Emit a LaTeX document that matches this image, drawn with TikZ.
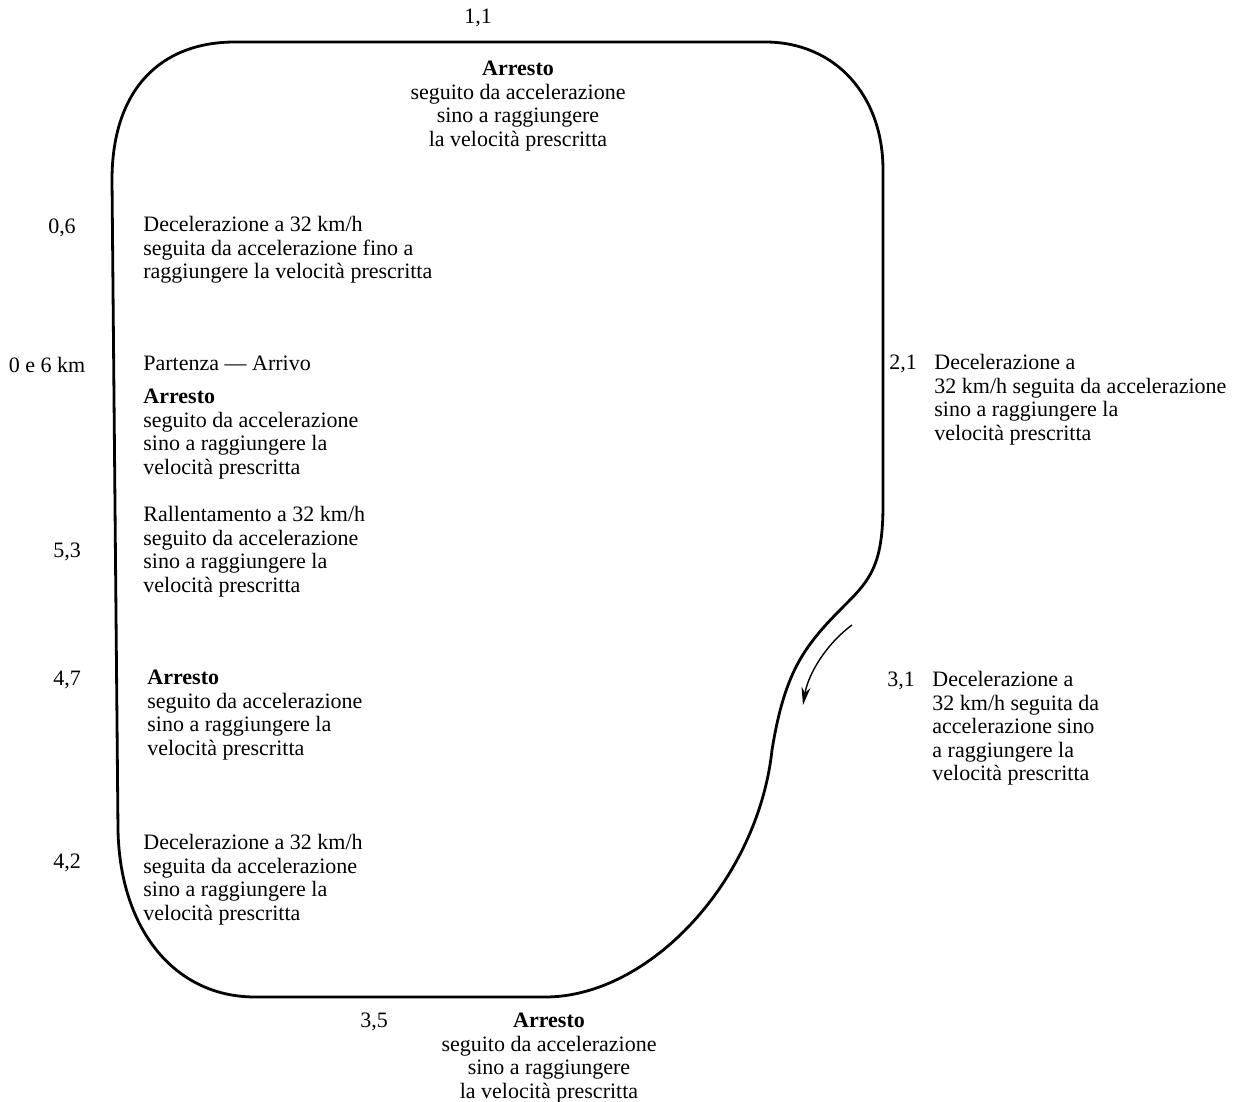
\documentclass[tikz,border=0pt]{standalone}
\usepackage{fontspec}
\setmainfont{Liberation Serif}
\usepackage{tikz}
\usetikzlibrary{arrows.meta}

\begin{document}
\begin{tikzpicture}[x=0.5pt,y=-0.5pt,
    txt/.style={inner sep=0pt,align=left,anchor=north west,font=\fontsize{11}{11.75}\selectfont},
    ctxt/.style={txt,align=center,anchor=north},
    km/.style={inner sep=0pt,font=\fontsize{11}{11.75}\selectfont}]
    \useasboundingbox (0,0) rectangle (1238,1102);
    \draw [line width=1.4pt] (235,42) -- (765,42) .. controls (835,42) and (883,95) .. (883,170)
      -- (883,505) .. controls (883,565) and (870,580) .. (845,605)
      .. controls (805,645) and (785,670) .. (772,750)
      .. controls (758,880) and (650,997) .. (545,997) -- (255,997)
      .. controls (175,997) and (120,930) .. (118,830) -- (112,180)
      .. controls (112,90) and (160,42) .. (235,42) -- cycle;
    \coordinate (a1) at (852,625);
    \coordinate (a2) at (803,705);
    \draw [line width=0.7pt,-{Stealth[length=9pt,width=4.5pt]}] (a1) .. controls (825,645) and (808,675) .. (a2);
    \node [km] (k11) at (478,18) {1,1};
    \node [ctxt] (top) at (518,61) {\textbf{Arresto}\\seguito da accelerazione\\sino a raggiungere\\la velocità prescritta};
    \node [km] (k06) at (62,228) {0,6};
    \node [txt] (t06) at (143,216) {Decelerazione a 32 km/h\\seguita da accelerazione fino a\\raggiungere la velocità prescritta};
    \node [km] (k0) at (47,365) {0 e 6 km};
    \node [txt] (start) at (143,356) {Partenza — Arrivo};
    \node [txt] (t0) at (143,389) {\textbf{Arresto}\\seguito da accelerazione\\sino a raggiungere la\\velocità prescritta};
    \node [km] (k53) at (67,552) {5,3};
    \node [txt] (t53) at (143,506) {Rallentamento a 32 km/h\\seguito da accelerazione\\sino a raggiungere la\\velocità prescritta};
    \node [km] (k47) at (67,680) {4,7};
    \node [txt] (t47) at (147,670) {\textbf{Arresto}\\seguito da accelerazione\\sino a raggiungere la\\velocità prescritta};
    \node [km] (k42) at (67,863) {4,2};
    \node [txt] (t42) at (143,834) {Decelerazione a 32 km/h\\seguita da accelerazione\\sino a raggiungere la\\velocità prescritta};
    \node [km] (k35) at (374,1022) {3,5};
    \node [ctxt] (bot) at (549,1013) {\textbf{Arresto}\\seguito da accelerazione\\sino a raggiungere\\la velocità prescritta};
    \node [km,anchor=base west] (k21) at (889,369) {2,1};
    \node [txt] (t21) at (934,354) {Decelerazione a\\32 km/h seguita da accelerazione\\sino a raggiungere la\\velocità prescritta};
    \node [km,anchor=base west] (k31) at (887,686) {3,1};
    \node [txt] (t31) at (932,671) {Decelerazione a\\32 km/h seguita da\\accelerazione sino\\a raggiungere la\\velocità prescritta};
  \end{tikzpicture}
\end{document}
